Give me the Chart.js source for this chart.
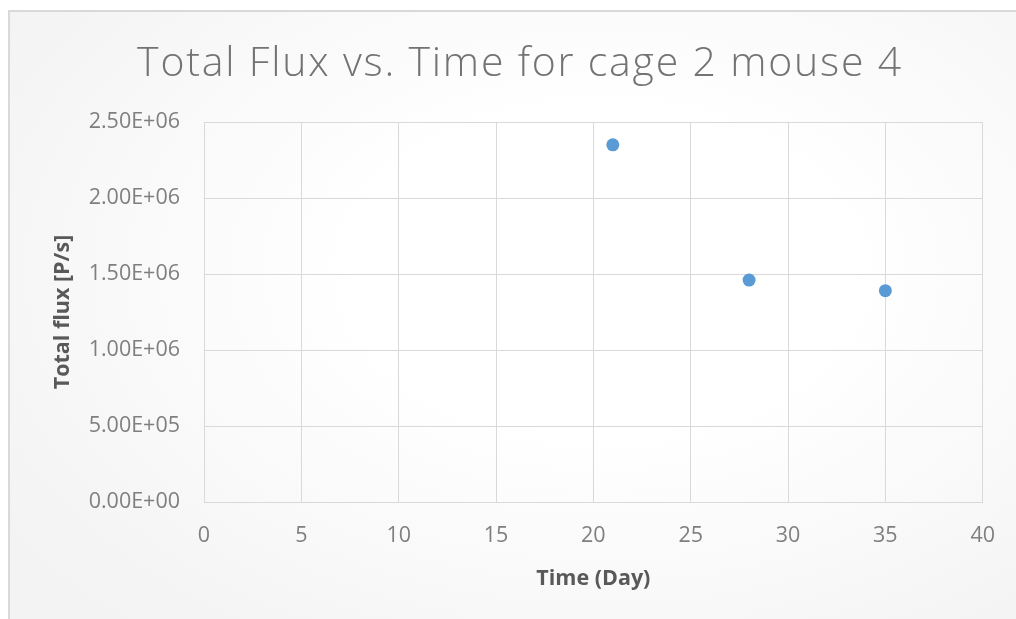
<!DOCTYPE html>
<html>
<head>
<meta charset="utf-8">
<script src="https://cdn.jsdelivr.net/npm/chart.js@4/dist/chart.umd.min.js"></script>
<style>
  html, body { margin: 0; padding: 0; background: #ffffff; }
  #frame {
    position: absolute; left: 8px; top: 10px; width: 1020px; height: 620px;
    border-left: 2px solid #d9d9d9; border-top: 2px solid #d9d9d9;
    background: radial-gradient(ellipse 70% 75% at 58% 42%, #ffffff 0%, #ffffff 35%, #f3f3f3 100%);
  }
  #wrap { position: absolute; left: 0; top: 0; width: 1016px; height: 619px; }
</style>
</head>
<body>
<div id="frame"></div>
<div id="wrap"><canvas id="chart" width="1016" height="619"></canvas></div>
<script>
// Measurement days and total photon flux for cage 2, mouse 4
const days = [21, 28, 35];
const totalFlux = [2.35e6, 1.46e6, 1.39e6];

// Axis ranges and tick steps
const xTicks = [0, 5, 10, 15, 20, 25, 30, 35, 40];
const yTicks = [0, 5e5, 1e6, 1.5e6, 2e6, 2.5e6];

// Excel-style scientific notation: 2.50E+06
function sci(v) {
  if (v === 0) return '0.00E+00';
  const exp = Math.floor(Math.log10(Math.abs(v)));
  const mant = v / Math.pow(10, exp);
  const e = String(Math.abs(exp)).padStart(2, '0');
  return mant.toFixed(2) + 'E' + (exp < 0 ? '-' : '+') + e;
}

const gridColor = '#d9d9d9';
const tickColor = '#7f7f7f';
const titleColor = '#595959';
const family = '"Open Sans", sans-serif';

const chart = new Chart(document.getElementById('chart'), {
  type: 'scatter',
  data: {
    datasets: [{
      label: 'Total flux',
      data: days.map((d, i) => ({ x: d, y: totalFlux[i] })),
      backgroundColor: '#5b9bd5',
      borderColor: '#5b9bd5',
      borderWidth: 0,
      pointRadius: 6.5,
      pointHoverRadius: 6.5
    }]
  },
  options: {
    responsive: false,
    animation: false,
    layout: { padding: { left: 56, right: 32, top: 0, bottom: 0 } },
    plugins: {
      legend: { display: false },
      tooltip: { enabled: false },
      title: {
        display: true,
        text: 'Total Flux vs. Time for cage 2 mouse 4',
        color: '#737373',
        font: { family: family, size: 41, weight: 300, lineHeight: 1.2 },
        padding: { top: 39.4, bottom: 33.4 }
      }
    },
    scales: {
      x: {
        type: 'linear',
        min: xTicks[0],
        max: xTicks[xTicks.length - 1],
        afterBuildTicks: s => { s.ticks = xTicks.map(v => ({ value: v })); },
        afterFit: s => { s.height = 117; },
        grid: { color: gridColor, lineWidth: 1, drawTicks: false },
        border: { color: gridColor, width: 1 },
        ticks: {
          color: tickColor,
          padding: 21,
          font: { family: family, size: 21.5 }
        },
        title: {
          display: true,
          text: 'Time (Day)',
          color: titleColor,
          font: { family: family, size: 21.5, weight: 'bold', lineHeight: 1.2 },
          padding: { top: 0, bottom: 27 }
        }
      },
      y: {
        type: 'linear',
        min: yTicks[0],
        max: yTicks[yTicks.length - 1],
        afterBuildTicks: s => { s.ticks = yTicks.map(v => ({ value: v })); },
        afterFit: s => { s.width = 148; },
        grid: { color: gridColor, lineWidth: 1, drawTicks: false },
        border: { color: gridColor, width: 1 },
        ticks: {
          color: tickColor,
          padding: 24,
          font: { family: family, size: 21.5 },
          callback: v => sci(v)
        },
        title: {
          display: true,
          text: 'Total flux [P/s]',
          color: titleColor,
          font: { family: family, size: 21.5, weight: 'bold', lineHeight: 1.2 },
          padding: { top: -6, bottom: 0 }
        }
      }
    }
  }
});

// Open up the chart title's letter spacing a little
const titleBox = chart.titleBlock;
const drawTitle = titleBox.draw.bind(titleBox);
titleBox.draw = function (area) {
  const ctx = chart.ctx;
  ctx.letterSpacing = '1.8px';
  drawTitle(area);
  ctx.letterSpacing = '0px';
};
chart.draw();
</script>
</body>
</html>
